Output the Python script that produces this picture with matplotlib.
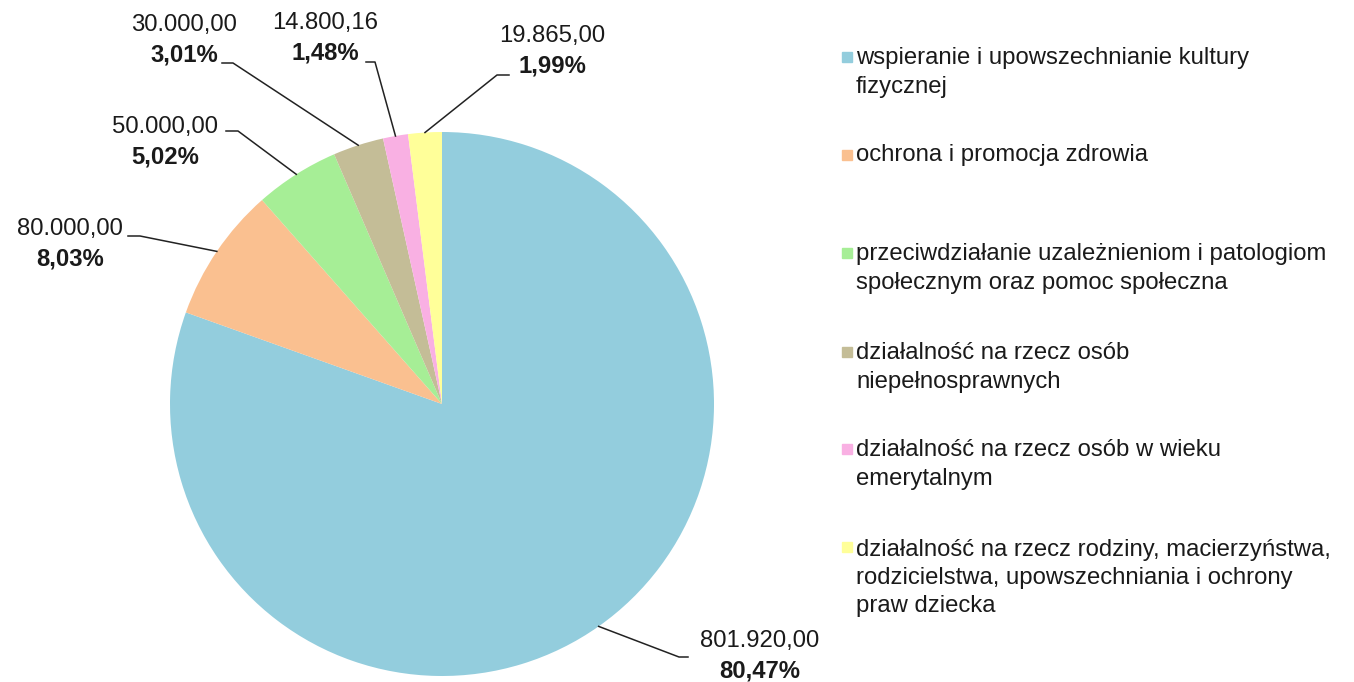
import numpy as np
import matplotlib.pyplot as plt
from matplotlib.patches import Rectangle

plt.rcParams['font.family'] = ['Liberation Sans', 'DejaVu Sans']

categories = [
    'wspieranie i upowszechnianie kultury\nfizycznej',
    'ochrona i promocja zdrowia',
    'przeciwdziałanie uzależnieniom i patologiom\nspołecznym oraz pomoc społeczna',
    'działalność na rzecz osób\nniepełnosprawnych',
    'działalność na rzecz osób w wieku\nemerytalnym',
    'działalność na rzecz rodziny, macierzyństwa,\nrodzicielstwa, upowszechniania i ochrony\npraw dziecka',
]
values = [801920.00, 80000.00, 50000.00, 30000.00, 14800.16, 19865.00]
# percentages as printed on the chart
pcts = [80.47, 8.03, 5.02, 3.01, 1.48, 1.99]
colors = ['#93CDDD', '#FAC090', '#A6EE96', '#C4BD97', '#F9B0E3', '#FFFF99']

W, H = 1354, 682
fig = plt.figure(figsize=(W / 100, H / 100), dpi=100)
ax = fig.add_axes([0, 0, 1, 1])

# pie in pixel space (y from bottom)
cx, cy, R = 442, H - 404, 272
wedges, _ = ax.pie(values, colors=colors, startangle=90, counterclock=False,
                   center=(cx, cy), radius=R, frame=False)
ax.set_xlim(0, W)
ax.set_ylim(0, H)
ax.set_aspect('equal')
ax.axis('off')

def fmt_num(v):
    s = f'{v:,.2f}'
    return s.replace(',', ' ').replace('.', ',').replace(' ', '.')

# label centres (x, y of first line, y measured from top) and leader elbows
label_pos = [(760, 641), (70, 229), (165, 127), (184, 25), (325, 23), (552, 36)]
leader = [((688, 657), (679, 657)), ((128, 236), (140, 236)),
          ((226, 131), (238, 131)), ((222, 63), (233, 63)),
          ((366, 62), (375, 62)), ((509, 75), (497, 75))]

fs = 17.2
for w, v, p, (lx, ly), (end, elbow) in zip(wedges, values, pcts, label_pos, leader):
    ang = np.deg2rad((w.theta1 + w.theta2) / 2)
    ex, ey = cx + R * np.cos(ang), cy + R * np.sin(ang)
    ax.plot([ex, elbow[0], end[0]], [ey, H - elbow[1], H - end[1]],
            color='#222222', lw=1.1)
    ax.text(lx, H - ly, fmt_num(v), ha='center', va='center', fontsize=fs,
            color='#1a1a1a')
    ax.text(lx, H - ly - 30, f'{p:.2f}%'.replace('.', ','), ha='center',
            va='center', fontsize=fs, fontweight='bold', color='#1a1a1a')

# legend drawn by hand
leg_y = [57, 155, 253, 352, 449, 547]
for lab, c, y in zip(categories, colors, leg_y):
    n = lab.count('\n')
    ax.add_patch(Rectangle((842, H - y - 5), 10, 10, color=c))
    ax.text(856, H - y - n * 15.5, lab, ha='left', va='center', fontsize=fs,
            color='#1a1a1a', linespacing=1.38)

fig.savefig('out.png', dpi=100, facecolor='white')
